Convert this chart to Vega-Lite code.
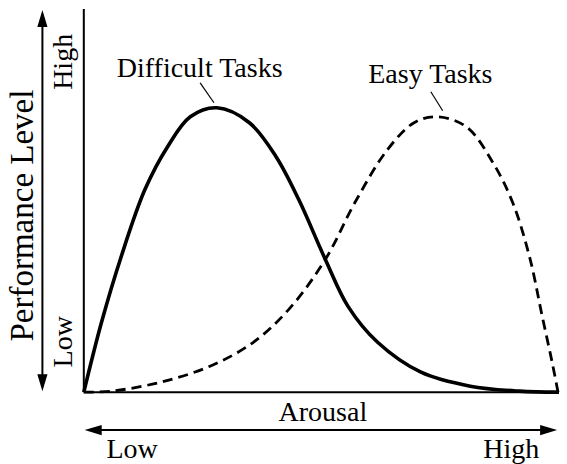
{
  "$schema": "https://vega.github.io/schema/vega-lite/v6.json",
  "width": 567,
  "height": 464,
  "padding": 0,
  "autosize": {"type": "fit", "contains": "padding"},
  "background": "white",
  "config": {"view": {"stroke": null}},
  "datasets": {
    "curves": [
      {"task": "Difficult", "arousal": 0, "performance": 0},
      {"task": "Difficult", "arousal": 3.73, "performance": 18.28},
      {"task": "Difficult", "arousal": 7.88, "performance": 35.51},
      {"task": "Difficult", "arousal": 12.86, "performance": 53.0},
      {"task": "Difficult", "arousal": 17.63, "performance": 64.23},
      {"task": "Difficult", "arousal": 22.41, "performance": 72.06},
      {"task": "Difficult", "arousal": 28.01, "performance": 74.41},
      {"task": "Difficult", "arousal": 34.85, "performance": 70.5},
      {"task": "Difficult", "arousal": 40.46, "performance": 61.6},
      {"task": "Difficult", "arousal": 45.23, "performance": 50.39},
      {"task": "Difficult", "arousal": 50.83, "performance": 34.73},
      {"task": "Difficult", "arousal": 55.6, "performance": 22.45},
      {"task": "Difficult", "arousal": 61.83, "performance": 13.05},
      {"task": "Difficult", "arousal": 70.95, "performance": 5.22},
      {"task": "Difficult", "arousal": 81.33, "performance": 1.57},
      {"task": "Difficult", "arousal": 91.7, "performance": 0.26},
      {"task": "Difficult", "arousal": 100, "performance": 0},
      {"task": "Easy", "arousal": 0, "performance": 0},
      {"task": "Easy", "arousal": 5.81, "performance": 0.26},
      {"task": "Easy", "arousal": 16.18, "performance": 2.61},
      {"task": "Easy", "arousal": 26.56, "performance": 6.79},
      {"task": "Easy", "arousal": 35.68, "performance": 13.05},
      {"task": "Easy", "arousal": 43.15, "performance": 21.67},
      {"task": "Easy", "arousal": 50.83, "performance": 34.73},
      {"task": "Easy", "arousal": 57.05, "performance": 49.61},
      {"task": "Easy", "arousal": 63.9, "performance": 63.45},
      {"task": "Easy", "arousal": 69.5, "performance": 70.5},
      {"task": "Easy", "arousal": 74.27, "performance": 72.06},
      {"task": "Easy", "arousal": 80.5, "performance": 69.45},
      {"task": "Easy", "arousal": 86.1, "performance": 60.05},
      {"task": "Easy", "arousal": 90.25, "performance": 49.61},
      {"task": "Easy", "arousal": 93.78, "performance": 35.51},
      {"task": "Easy", "arousal": 96.47, "performance": 19.84},
      {"task": "Easy", "arousal": 98.55, "performance": 7.83},
      {"task": "Easy", "arousal": 99.8, "performance": 0}
    ],
    "axes": [
      {"x1": 0, "y1": 100.26, "x2": 0, "y2": 0},
      {"x1": 0, "y1": 0, "x2": 100, "y2": 0}
    ],
    "shafts": [
      {"x1": -8.71, "y1": 97.0, "x2": -8.71, "y2": 3.2},
      {"x1": 2.6, "y1": -9.92, "x2": 97.2, "y2": -9.92}
    ],
    "heads": [
      {"dir": "up", "x": -8.71, "y": 97.78},
      {"dir": "down", "x": -8.71, "y": 2.48},
      {"dir": "left", "x": 1.97, "y": -9.92},
      {"dir": "right", "x": 97.82, "y": -9.92}
    ],
    "leaders": [
      {"x1": 24.48, "y1": 80.94, "x2": 27.39, "y2": 75.72},
      {"x1": 73.03, "y1": 78.59, "x2": 75.52, "y2": 73.63}
    ],
    "labels": [
      {"text": "Difficult Tasks", "x": 24.38, "y": 82.51},
      {"text": "Easy Tasks", "x": 72.93, "y": 80.94},
      {"text": "Arousal", "x": 50.31, "y": -7.57},
      {"text": "Low", "x": 10.17, "y": -17.23},
      {"text": "High", "x": 89.94, "y": -17.23}
    ],
    "vlabels": [
      {"text": "High", "x": -2.49, "y": 86.42},
      {"text": "Low", "x": -2.49, "y": 13.19}
    ],
    "ytitle": [
      {"text": "Performance Level", "x": -10.79, "y": 46.21}
    ]
  },
  "layer": [
    {
      "data": {"name": "axes"},
      "mark": {"type": "rule", "color": "black", "strokeWidth": 2},
      "encoding": {
        "x": {"field": "x1", "type": "quantitative", "scale": {"domain": [-17.635, 100], "nice": false, "zero": false}, "axis": null},
        "y": {"field": "y1", "type": "quantitative", "scale": {"domain": [-18.54, 102.61], "nice": false, "zero": false}, "axis": null},
        "x2": {"field": "x2"},
        "y2": {"field": "y2"}
      }
    },
    {
      "data": {"name": "curves"},
      "transform": [{"filter": "datum.task === 'Easy'"}],
      "mark": {"type": "line", "color": "black", "strokeWidth": 2.8, "strokeDash": [10, 6], "interpolate": "catmull-rom"},
      "encoding": {
        "x": {"field": "arousal", "type": "quantitative"},
        "y": {"field": "performance", "type": "quantitative"}
      }
    },
    {
      "data": {"name": "curves"},
      "transform": [{"filter": "datum.task === 'Difficult'"}],
      "mark": {"type": "line", "color": "black", "strokeWidth": 3.6, "interpolate": "catmull-rom"},
      "encoding": {
        "x": {"field": "arousal", "type": "quantitative"},
        "y": {"field": "performance", "type": "quantitative"}
      }
    },
    {
      "data": {"name": "shafts"},
      "mark": {"type": "rule", "color": "black", "strokeWidth": 2},
      "encoding": {
        "x": {"field": "x1", "type": "quantitative"},
        "y": {"field": "y1", "type": "quantitative"},
        "x2": {"field": "x2"},
        "y2": {"field": "y2"}
      }
    },
    {
      "data": {"name": "heads"},
      "mark": {"type": "point", "filled": true, "color": "black", "opacity": 1, "size": 289, "strokeWidth": 0},
      "encoding": {
        "x": {"field": "x", "type": "quantitative"},
        "y": {"field": "y", "type": "quantitative"},
        "shape": {
          "field": "dir",
          "type": "nominal",
          "scale": {
            "domain": ["up", "down", "left", "right"],
            "range": ["M0,-1L0.6,1L-0.6,1Z", "M0,1L0.6,-1L-0.6,-1Z", "M-1,0L1,-0.6L1,0.6Z", "M1,0L-1,-0.6L-1,0.6Z"]
          },
          "legend": null
        }
      }
    },
    {
      "data": {"name": "leaders"},
      "mark": {"type": "rule", "color": "black", "strokeWidth": 1.2},
      "encoding": {
        "x": {"field": "x1", "type": "quantitative"},
        "y": {"field": "y1", "type": "quantitative"},
        "x2": {"field": "x2"},
        "y2": {"field": "y2"}
      }
    },
    {
      "data": {"name": "labels"},
      "mark": {"type": "text", "font": "Liberation Serif", "fontSize": 28, "color": "black", "align": "center", "baseline": "alphabetic"},
      "encoding": {
        "x": {"field": "x", "type": "quantitative"},
        "y": {"field": "y", "type": "quantitative"},
        "text": {"field": "text"}
      }
    },
    {
      "data": {"name": "vlabels"},
      "mark": {"type": "text", "font": "Liberation Serif", "fontSize": 28, "color": "black", "align": "center", "baseline": "alphabetic", "angle": -90},
      "encoding": {
        "x": {"field": "x", "type": "quantitative"},
        "y": {"field": "y", "type": "quantitative"},
        "text": {"field": "text"}
      }
    },
    {
      "data": {"name": "ytitle"},
      "mark": {"type": "text", "font": "Liberation Serif", "fontSize": 33, "color": "black", "align": "center", "baseline": "alphabetic", "angle": -90},
      "encoding": {
        "x": {"field": "x", "type": "quantitative"},
        "y": {"field": "y", "type": "quantitative"},
        "text": {"field": "text"}
      }
    }
  ]
}
